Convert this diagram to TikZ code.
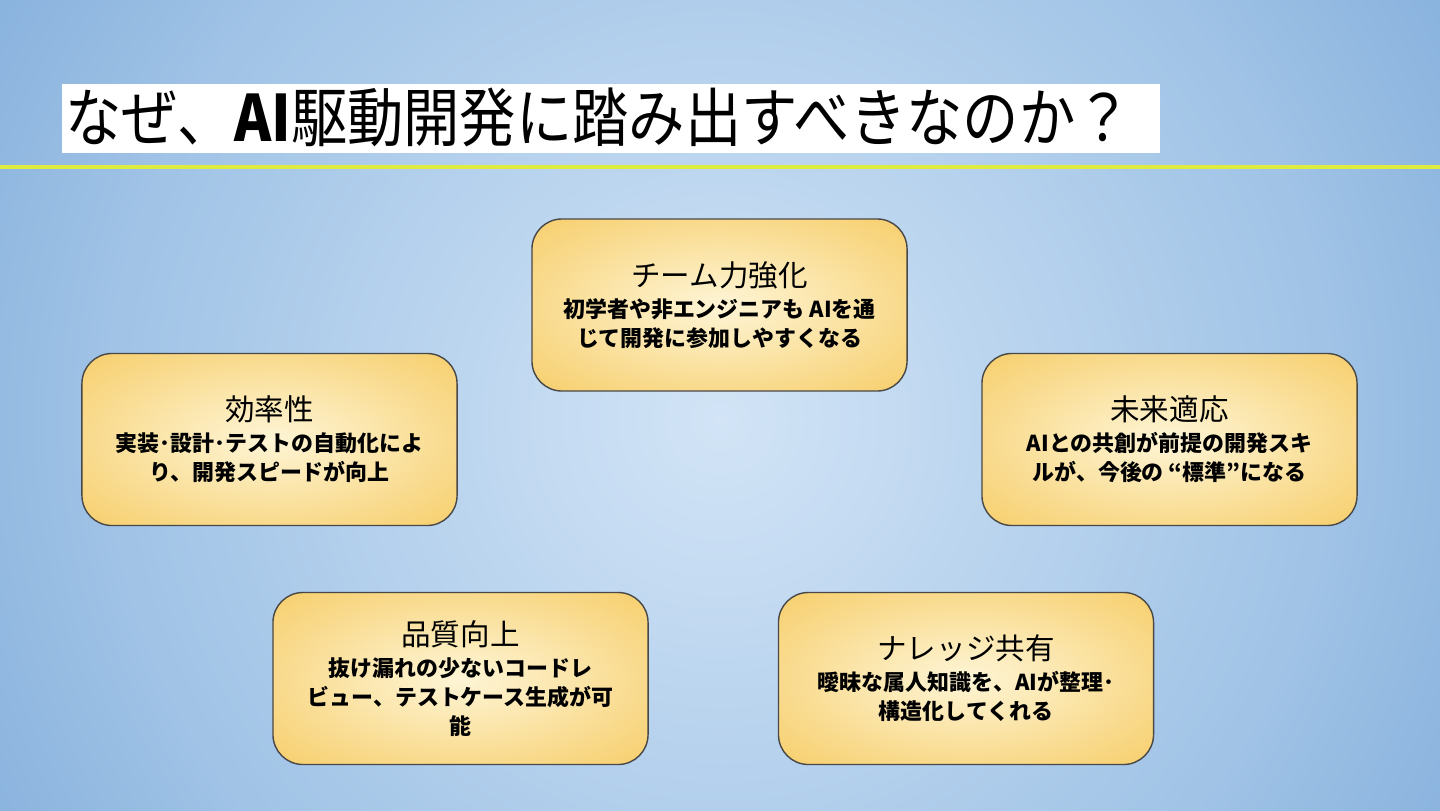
\documentclass[tikz,border=0pt]{standalone}
\usepackage{fontspec}
\newfontfamily\jpfont{Noto Sans CJK JP}
\newfontfamily\titlefont{Noto Sans CJK JP}[FakeStretch=0.88]
\newcommand{\cardhead}[1]{{\mdseries\fontsize{21pt}{24pt}\selectfont #1}\\[1.4pt]}

\definecolor{bglight}{RGB}{210,228,246}
\definecolor{bgmid}{RGB}{160,195,230}
\definecolor{bgedge}{RGB}{112,160,212}
\definecolor{bgdark}{RGB}{100,152,207}
\definecolor{cardlight}{RGB}{254,245,214}
\definecolor{cardgold}{RGB}{245,197,82}
\definecolor{cardedge}{RGB}{72,72,72}
\definecolor{rulegreen}{RGB}{222,236,64}
\pgfdeclareradialshading{bgglow}{\pgfpoint{0bp}{0bp}}{color(0bp)=(bglight); color(17bp)=(bgmid); color(30bp)=(bgedge); color(40bp)=(bgdark); color(72bp)=(bgdark)}
\pgfdeclareradialshading{cardglow}{\pgfpoint{0bp}{0bp}}{color(0bp)=(cardlight); color(44bp)=(cardgold); color(72bp)=(cardgold)}

\begin{document}
\begin{tikzpicture}[x=0.025cm, y=-0.025cm,
                card/.style={rectangle, draw=cardedge, line width=1pt, rounded corners=0.75cm,
                shading=cardglow, minimum width=9.375cm, minimum height=4.3cm, align=center,
                text=black, font=\jpfont\bfseries\fontsize{15.6pt}{20.6pt}\selectfont},
                heading/.style={anchor=base west, inner sep=0pt, text=black,
                font=\titlefont\fontsize{45.5pt}{50pt}\selectfont}
            ]
        \useasboundingbox (0,0) rectangle (1440,810);
        \begin{scope}
            \clip (0,0) rectangle (1440,810);
            \shade[shading=bgglow] (-180,-480) rectangle (1620,1320);
        \end{scope}

        % title bar
        \fill[white] (62,84) rectangle (1160,153);
        \node[heading] (title) at (65,141) {なぜ、{\bfseries AI}駆動開発に踏み出すべきなのか？};
        \draw[rulegreen, line width=2.4pt] (0,167) -- (1440,167);

        % five reasons
        \node[card] (team)    at (719.5,305)  {\cardhead{チーム力強化}初学者や非エンジニアも AIを通\\じて開発に参加しやすくなる};
        \node[card] (speed)   at (269.5,439.5) {\cardhead{効率性}実装･設計･テストの自動化によ\\り、開発スピードが向上};
        \node[card] (future)  at (1169.5,439.5) {\cardhead{未来適応}AIとの共創が前提の開発スキ\\ルが、今後の “標準”になる};
        \node[card] (quality) at (460.5,678.5) {\cardhead{品質向上}抜け漏れの少ないコードレ\\ビュー、テストケース生成が可\\能};
        \node[card] (share)   at (966,678.5)  {\cardhead{ナレッジ共有}曖昧な属人知識を、AIが整理･\\構造化してくれる};
            \end{tikzpicture}
\end{document}
